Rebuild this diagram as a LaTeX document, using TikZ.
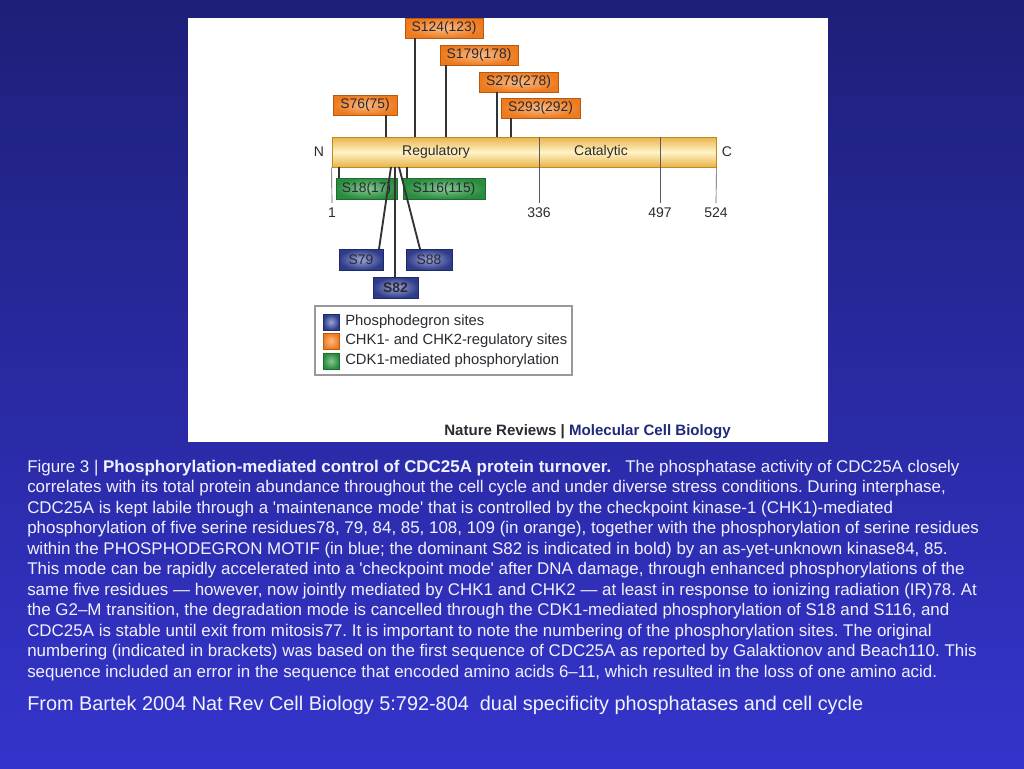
\documentclass[tikz,border=0pt]{standalone}
\usepackage{fontspec}
\setmainfont{Liberation Sans}
\frenchspacing
\newcommand{\sq}{\textquotesingle}
\definecolor{bgtop}{HTML}{1E1F78}
\definecolor{bgbot}{HTML}{3434CC}
\definecolor{captxt}{HTML}{F2F2FF}
\definecolor{orout}{HTML}{EE7A1E}
\definecolor{orin}{HTML}{F9BC86}
\definecolor{ordr}{HTML}{B65A12}
\definecolor{grout}{HTML}{2A8C3E}
\definecolor{grin}{HTML}{86C794}
\definecolor{grdr}{HTML}{1E6B30}
\definecolor{blout}{HTML}{2E3C8A}
\definecolor{blin}{HTML}{9AA4D4}
\definecolor{bldr}{HTML}{1E2A66}
\definecolor{goldout}{HTML}{E9B447}
\definecolor{goldin}{HTML}{FFF3C8}
\definecolor{golddr}{HTML}{C08A20}
\definecolor{linec}{HTML}{333333}
\definecolor{boxtxt}{HTML}{2A2A32}
\definecolor{navytxt}{HTML}{1E2A78}
\tikzset{
  site/.style={rectangle, draw, line width=0.6pt, minimum height=15pt, inner sep=0pt,
    text=boxtxt, font=\fontsize{10.4}{12}\selectfont},
  orangebox/.style={site, draw=ordr, inner color=orin, outer color=orout},
  greenbox/.style={site, draw=grdr, inner color=grin, outer color=grout},
  bluebox/.style={site, draw=bldr, inner color=blin, outer color=blout},
  conn/.style={draw=linec, line width=1.4pt},
  tick/.style={draw=linec!80, line width=0.5pt},
  barlabel/.style={font=\fontsize{10.5}{12}\selectfont, text=boxtxt, inner sep=0pt},
  numlabel/.style={font=\fontsize{10.5}{12}\selectfont, text=boxtxt, inner sep=0pt},
  legsq/.style={rectangle, minimum width=12pt, minimum height=12pt, inner sep=0pt, line width=0.4pt},
  legtxt/.style={anchor=west, inner sep=0pt, font=\fontsize{11.1}{13}\selectfont, text=boxtxt},
}
\begin{document}
\begin{tikzpicture}[x=0.75pt,y=-0.75pt]
\useasboundingbox (0,0) rectangle (1024,768);
\shade[top color=bgtop, bottom color=bgbot] (0,0) rectangle (1024,768);
% figure panel
\fill[white] (188,18) rectangle (828,442);

% bar attachment coordinates
\coordinate (a76) at (386,137);
\coordinate (a124) at (415,137);
\coordinate (a179) at (446,137);
\coordinate (a279) at (497,137);
\coordinate (a293) at (511,137);
\coordinate (b18) at (339,167);
\coordinate (b116) at (407,167);
\coordinate (b79) at (391,167);
\coordinate (b82) at (395,167);
\coordinate (b88) at (399,167);

% protein bar
\node[rectangle, draw=golddr, line width=0.6pt, top color=goldout, bottom color=goldout, middle color=goldin,
  minimum width=288pt, minimum height=22.5pt, inner sep=0pt] (bar) at (524,152) {};
\coordinate (d336) at (539,137);
\coordinate (d497) at (660,137);
\coordinate (e1) at (332,203);
\coordinate (e336) at (539,203);
\coordinate (e497) at (660,203);
\coordinate (e524) at (716,203);
\draw[tick] (d336) -- (e336);
\draw[tick] (d497) -- (e497);
\draw[tick] (bar.south west) -- (e1);
\draw[tick] (bar.south east) -- (e524);
\node[barlabel] (reg) at (436,152) {Regulatory};
\node[barlabel] (cat) at (601,152) {Catalytic};
\node[barlabel] (nterm) at (319,152) {N};
\node[barlabel] (cterm) at (727,152) {C};
\node[numlabel] (n1) at (332,213) {1};
\node[numlabel] (n336) at (539,213) {336};
\node[numlabel] (n497) at (660,213) {497};
\node[numlabel] (n524) at (716,213) {524};

% orange sites
\node[orangebox, minimum width=58.5pt] (s124) at (444,28) {S124(123)};
\node[orangebox, minimum width=58.5pt] (s179) at (479,55) {S179(178)};
\node[orangebox, minimum width=59.25pt] (s279) at (518.5,82) {S279(278)};
\node[orangebox, minimum width=59.25pt] (s293) at (540.5,108) {S293(292)};
\node[orangebox, minimum width=48pt] (s76) at (365,105) {S76(75)};
\draw[conn] (s124.south -| a124) -- (a124);
\draw[conn] (s179.south -| a179) -- (a179);
\draw[conn] (s279.south -| a279) -- (a279);
\draw[conn] (s293.south -| a293) -- (a293);
\draw[conn] (s76.south -| a76) -- (a76);

% green sites
\node[greenbox, minimum width=45.75pt, minimum height=15.75pt] (s18) at (366.5,188.5) {S18(17)};
\node[greenbox, minimum width=61.5pt, minimum height=15.75pt] (s116) at (444,188.5) {S116(115)};
\draw[conn] (b18) -- (s18.north -| b18);
\draw[conn] (b116) -- (s116.north -| b116);

% blue sites
\node[bluebox, minimum width=33pt, minimum height=15.75pt] (s79) at (361,259.5) {S79};
\node[bluebox, minimum width=34.5pt, minimum height=15.75pt] (s88) at (429,259.5) {S88};
\node[bluebox, minimum width=33.75pt, minimum height=15.75pt, font=\fontsize{10.4}{12}\selectfont\bfseries] (s82) at (395.5,287.5) {S82};
\coordinate (t79) at (379,249);
\coordinate (t88) at (420,249);
\draw[conn] (b79) -- (t79);
\draw[conn] (b82) -- (s82.north -| b82);
\draw[conn] (b88) -- (t88);

% legend
\draw[draw=black!40, fill=white, line width=1pt] (315,306) rectangle (572,375);
\node[legsq, draw=bldr, inner color=blin, outer color=blout] (q1) at (331,322) {};
\node[legsq, draw=ordr, inner color=orin, outer color=orout] (q2) at (331,341) {};
\node[legsq, draw=grdr, inner color=grin, outer color=grout] (q3) at (331,361) {};
\node[legtxt] (l1) at (345,322) {Phosphodegron sites};
\node[legtxt] (l2) at (345,341) {CHK1- and CHK2-regulatory sites};
\node[legtxt] (l3) at (345,361) {CDK1-mediated phosphorylation};

% journal
\node[anchor=west, inner sep=0pt, font=\fontsize{11.3}{13}\selectfont\bfseries] (jr) at (444,432)
  {\textcolor{boxtxt}{Nature Reviews |} \textcolor{navytxt}{Molecular Cell Biology}};

% caption
\node[anchor=north west, inner sep=0pt, align=left, text=captxt, font=\fontsize{12.7}{15.375}\selectfont] (cap) at (27,459.5) {%
Figure 3 | \textbf{Phosphorylation-mediated control of CDC25A protein turnover.}\ \ \ The phosphatase activity of CDC25A closely\\
correlates with its total protein abundance throughout the cell cycle and under diverse stress conditions. During interphase,\\
CDC25A is kept labile through a \sq maintenance mode\sq{} that is controlled by the checkpoint kinase-1 (CHK1)-mediated\\
phosphorylation of five serine residues78, 79, 84, 85, 108, 109 (in orange), together with the phosphorylation of serine residues\\
within the PHOSPHODEGRON MOTIF (in blue; the dominant S82 is indicated in bold) by an as-yet-unknown kinase84, 85.\\
This mode can be rapidly accelerated into a \sq checkpoint mode\sq{} after DNA damage, through enhanced phosphorylations of the\\
same five residues — however, now jointly mediated by CHK1 and CHK2 — at least in response to ionizing radiation (IR)78. At\\
the G2–M transition, the degradation mode is cancelled through the CDK1-mediated phosphorylation of S18 and S116, and\\
CDC25A is stable until exit from mitosis77. It is important to note the numbering of the phosphorylation sites. The original\\
numbering (indicated in brackets) was based on the first sequence of CDC25A as reported by Galaktionov and Beach110. This\\
sequence included an error in the sequence that encoded amino acids 6–11, which resulted in the loss of one amino acid.};
\node[anchor=west, inner sep=0pt, text=captxt, font=\fontsize{14.9}{17}\selectfont] (src) at (27,705)
  {From Bartek 2004 Nat Rev Cell Biology 5:792-804\ \ dual specificity phosphatases and cell cycle};
\end{tikzpicture}
\end{document}
